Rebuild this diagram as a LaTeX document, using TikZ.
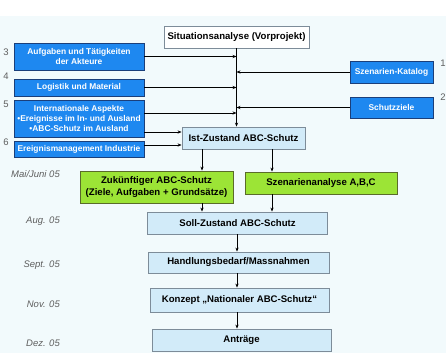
\documentclass[tikz,border=0pt]{standalone}
\usepackage{fontspec}
\setmainfont{Liberation Sans}
\usetikzlibrary{arrows.meta}
\definecolor{bgc}{HTML}{F2FAFC}
\definecolor{bluefill}{HTML}{1E88F0}
\definecolor{blueline}{HTML}{1B3F7A}
\definecolor{lightfill}{HTML}{D2EBF9}
\definecolor{lightline}{HTML}{7D8C99}
\definecolor{greenfill}{HTML}{9CE436}
\definecolor{greenline}{HTML}{5A6B2A}
\definecolor{numgray}{HTML}{5E5E5E}
\tikzset{
  box/.style={draw, line width=0.8pt, inner sep=0pt, align=center, anchor=center},
  bluebox/.style={box, fill=bluefill, draw=blueline, text=white, font=\fontsize{8.4}{10.4}\selectfont\bfseries},
  lightbox/.style={box, fill=lightfill, draw=lightline, font=\fontsize{9.6}{11.5}\selectfont\bfseries},
  greenbox/.style={box, fill=greenfill, draw=greenline, font=\fontsize{9.6}{11.5}\selectfont\bfseries},
  whitebox/.style={box, fill=white, draw=lightline, font=\fontsize{9.6}{11.5}\selectfont\bfseries},
  datelbl/.style={anchor=east, inner sep=0pt, text=numgray, font=\fontsize{9.5}{11}\selectfont\itshape},
  numlbl/.style={inner sep=0pt, text=numgray, font=\fontsize{9.5}{11}\selectfont},
  conn/.style={line width=0.8pt, -{Stealth[length=4pt,width=3.2pt]}},
}
\begin{document}
\begin{tikzpicture}[x=1pt,y=-1pt]
\useasboundingbox (0,0) rectangle (446,353);
\fill[white] (0,0) rectangle (446,353);
\fill[bgc] (0,16) rectangle (446,353);

% top
\node[whitebox, minimum width=145pt, minimum height=22pt] (sit) at (236.5,37) {Situationsanalyse (Vorprojekt)};

% left blue boxes
\node[bluebox, minimum width=130pt, minimum height=27pt] (b3) at (79,56.5) {Aufgaben und Tätigkeiten\\der Akteure};
\node[bluebox, minimum width=130pt, minimum height=17pt] (b4) at (79,87.5) {Logistik und Material};
\node[bluebox, minimum width=130pt, minimum height=37pt] (b5) at (79,118.5) {Internationale Aspekte\\•Ereignisse im In- und Ausland\\•ABC-Schutz im Ausland};
\node[bluebox, minimum width=130pt, minimum height=16pt] (b6) at (79,149.5) {Ereignismanagement Industrie};

\node[numlbl] (n3) at (6,52) {3};
\node[numlbl] (n4) at (6,76) {4};
\node[numlbl] (n5) at (6,104) {5};
\node[numlbl] (n6) at (6,142) {6};

% right blue boxes
\node[bluebox, minimum width=83pt, minimum height=22pt] (kat) at (391.5,72) {Szenarien-Katalog};
\node[bluebox, minimum width=83pt, minimum height=21pt] (sz) at (391.5,107.5) {Schutzziele};
\node[numlbl] (n1) at (443,63) {1};
\node[numlbl] (n2) at (443,97) {2};

% main chain
\node[lightbox, minimum width=123pt, minimum height=22pt] (ist) at (243.5,138) {Ist-Zustand ABC-Schutz};
\node[greenbox, minimum width=153pt, minimum height=32pt] (zuk) at (156.5,187) {Zukünftiger ABC-Schutz\\(Ziele, Aufgaben + Grundsätze)};
\node[greenbox, minimum width=152pt, minimum height=22pt] (sza) at (321,183) {Szenarienanalyse A,B,C};
\node[lightbox, minimum width=180pt, minimum height=22pt] (soll) at (237.5,223) {Soll-Zustand ABC-Schutz};
\node[lightbox, minimum width=181pt, minimum height=21pt] (hand) at (238.5,262.5) {Handlungsbedarf/Massnahmen};
\node[lightbox, minimum width=179pt, minimum height=24pt] (konz) at (239.5,300) {Konzept „Nationaler ABC-Schutz“};
\node[lightbox, minimum width=179pt, minimum height=22pt] (antr) at (241.5,340) {Anträge};

% dates
\node[datelbl] (d1) at (60,174) {Mai/Juni 05};
\node[datelbl] (d2) at (60,221) {Aug. 05};
\node[datelbl] (d3) at (60,265) {Sept. 05};
\node[datelbl] (d4) at (60,304) {Nov. 05};
\node[datelbl] (d5) at (60,343) {Dez. 05};

% helper coordinates
\coordinate (spine) at (236.5,0);
\coordinate (lx) at (202,0);
\coordinate (rx) at (272,0);
\coordinate (cx) at (237,0);
\coordinate (b5a) at (144,113);
\coordinate (b5b) at (144,132);
\coordinate (b6a) at (144,145);

% connectors
\draw[conn] (sit.south) -- (sit.south |- ist.north);
\draw[conn] (b3.east) -- (b3.east -| spine);
\draw[conn] (b4.east) -- (b4.east -| spine);
\draw[conn] (b5a) -- (b5a -| spine);
\draw[conn] (kat.west) -- (kat.west -| spine);
\draw[conn] (sz.west) -- (sz.west -| spine);
\draw[conn] (b5b) -- (b5b -| ist.west);
\draw[conn] (b6a) -- (b6a -| ist.west);

\draw[conn] (ist.south -| lx) -- (zuk.north -| lx);
\draw[conn] (ist.south -| rx) -- (sza.north -| rx);
\draw[conn] (zuk.south -| lx) -- (soll.north -| lx);
\draw[conn] (sza.south -| rx) -- (soll.north -| rx);
\draw[conn] (soll.south -| cx) -- (hand.north -| cx);
\draw[conn] (hand.south -| cx) -- (konz.north -| cx);
\draw[conn] (konz.south -| cx) -- (antr.north -| cx);
\end{tikzpicture}
\end{document}
